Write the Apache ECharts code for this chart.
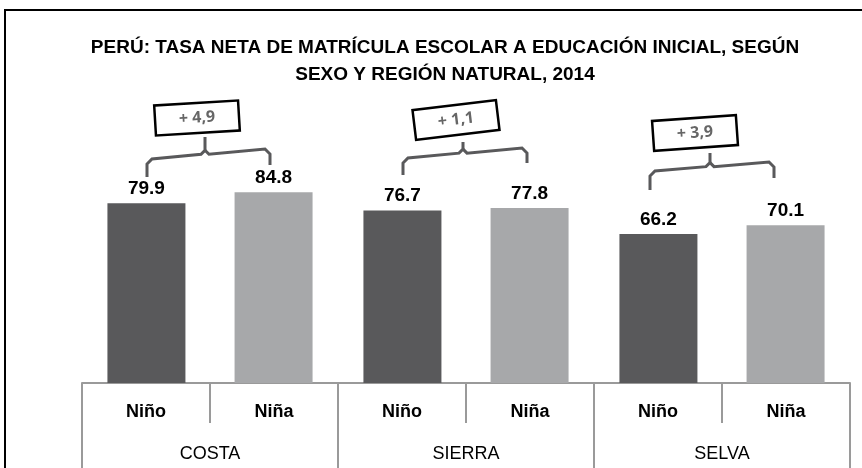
<!DOCTYPE html>
<html>
<head>
<meta charset="utf-8">
<script src="https://cdn.jsdelivr.net/npm/echarts@6/dist/echarts.min.js"></script>
<style>
  html, body { margin: 0; padding: 0; background: #fff; }
  #chart { width: 862px; height: 468px; }
</style>
</head>
<body>
<div id="chart"></div>
<script>
// data
var regions = ['COSTA', 'SIERRA', 'SELVA'];
var sexes = ['Niño', 'Niña', 'Niño', 'Niña', 'Niño', 'Niña'];
var ninoValues = [79.9, 76.7, 66.2];
var ninaValues = [84.8, 77.8, 70.1];
var diffLabels = ['+ 4,9', '+ 1,1', '+ 3,9'];

var NARROW = '"Liberation Sans Narrow", "Arial Narrow", "Liberation Sans", Arial, sans-serif';
var DARK = '#59595b';
var LIGHT = '#a7a8aa';
var AXIS = '#9a9a9a';

var myChart = echarts.init(document.getElementById('chart'));

var option = {
    animation: false,
    title: {
        text: 'PERÚ: TASA NETA DE MATRÍCULA ESCOLAR A EDUCACIÓN INICIAL, SEGÚN\nSEXO Y REGIÓN NATURAL, 2014',
        left: 445,
        top: 34,
        padding: 0,
        textAlign: 'center',
        textStyle: {
            fontFamily: NARROW,
            fontWeight: 'bold',
            fontSize: 19,
            lineHeight: 27,
            color: '#000'
        }
    },
    grid: { left: 82, right: 12, top: 158, bottom: 85 },
    xAxis: [{
        type: 'category',
        data: sexes,
        position: 'bottom',
        offset: 0,
        axisLine: { show: true, lineStyle: { color: AXIS, width: 2 } },
        axisTick: { show: true, interval: 0, length: 40, lineStyle: { color: AXIS, width: 2 } },
        axisLabel: {
            interval: 0, margin: 20,
            fontFamily: NARROW, fontWeight: 'bold', fontSize: 18, color: '#000'
        }
    }, {
        type: 'category',
        data: regions,
        position: 'bottom',
        offset: 0,
        axisLine: { show: false },
        axisTick: { show: true, interval: 0, length: 90, lineStyle: { color: AXIS, width: 2 } },
        axisLabel: {
            interval: 0, margin: 62,
            fontFamily: NARROW, fontSize: 18, color: '#000'
        }
    }],
    yAxis: { type: 'value', min: 0, max: 100, show: false },
    series: [{
        name: 'Niño',
        type: 'bar',
        xAxisIndex: 1,
        data: ninoValues,
        barWidth: 78,
        barGap: '63%',
        itemStyle: { color: DARK },
        label: {
            show: true, position: 'top', distance: 5,
            fontFamily: NARROW, fontWeight: 'bold', fontSize: 19, color: '#000'
        }
    }, {
        name: 'Niña',
        type: 'bar',
        xAxisIndex: 1,
        data: ninaValues,
        barWidth: 78,
        barGap: '63%',
        itemStyle: { color: LIGHT },
        label: {
            show: true, position: 'top', distance: 5,
            fontFamily: NARROW, fontWeight: 'bold', fontSize: 19, color: '#000'
        }
    }]
};

myChart.setOption(option);

// braces + tilted boxes over each region (hand placed like the original sketch)
// [leftX, rightX, stemX, boxX] offsets from the region centre, then
// [leftBottom, leftTop, rightTop, rightBottom, stemTop, boxY], rotation
var braceLayout = [
    { dx: [-63, 60, -5, -13], y: [177, 159, 149, 165, 137, 118], rot: 0.06 },
    { dx: [-63, 61, -3, -10], y: [175, 158, 148, 163, 142, 120], rot: 0.12 },
    { dx: [-72, 52, -12, -27], y: [190, 171, 162, 178, 153, 133], rot: 0.07 }
];

var graphics = [{
    type: 'rect',
    shape: { x: 5, y: 10, width: 900, height: 520 },
    style: { fill: 'none', stroke: '#000', lineWidth: 2 },
    z: 0
}];

regions.forEach(function (r, i) {
    var c = myChart.convertToPixel({ xAxisIndex: 1 }, r);
    var b = braceLayout[i];
    var xL = c + b.dx[0], xR = c + b.dx[1], xm = c + b.dx[2];
    var yLb = b.y[0], yLt = b.y[1], yRt = b.y[2], yRb = b.y[3];
    var ym = yLt + (yRt - yLt) * (xm - xL) / (xR - xL);
    var brace = { stroke: DARK, lineWidth: 3, fill: 'none' };
    graphics.push({
        type: 'polyline',
        shape: { points: [[xL, yLb], [xL, yLt + 5], [xL + 5, yLt], [xm - 4, ym], [xm, ym - 4], [xm, b.y[4]]] },
        style: brace
    });
    graphics.push({
        type: 'polyline',
        shape: { points: [[xm, ym - 4], [xm + 4, ym], [xR - 5, yRt], [xR, yRt + 5], [xR, yRb]] },
        style: brace
    });
    graphics.push({
        type: 'group',
        x: c + b.dx[3],
        y: b.y[5],
        rotation: b.rot,
        children: [{
            type: 'rect',
            shape: { x: -42, y: -15, width: 84, height: 30 },
            style: { fill: '#fff', stroke: '#000', lineWidth: 2.5 }
        }, {
            type: 'text',
            style: {
                text: diffLabels[i],
                x: 0, y: 0,
                align: 'center', verticalAlign: 'middle',
                fill: '#666', fontSize: 16, fontWeight: 'bold',
                fontFamily: '"Open Sans", "DejaVu Sans", sans-serif'
            }
        }]
    });
});

myChart.setOption({ graphic: graphics });
</script>
</body>
</html>
